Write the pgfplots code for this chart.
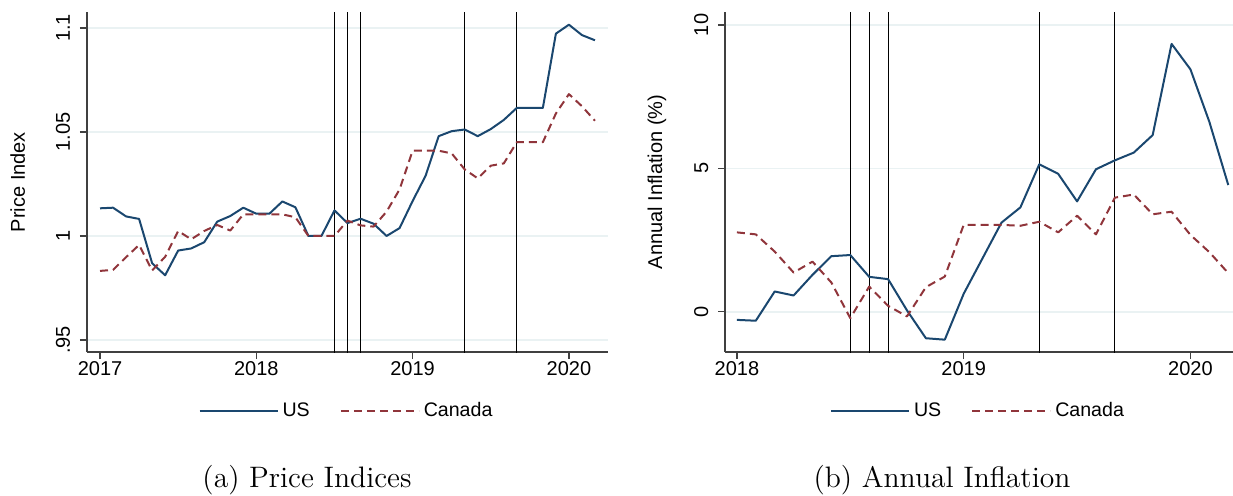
\documentclass[border=0pt]{standalone}
\usepackage{pgfplots}
\pgfplotsset{compat=1.18}
\usepackage{pgfplotstable}
\usepackage{fontspec}
\newfontfamily\arial{Liberation Sans}

\definecolor{usblue}{HTML}{1A476F}
\definecolor{cared}{HTML}{90353B}
\definecolor{gridc}{HTML}{EAF2F3}
\definecolor{axisc}{HTML}{404040}

% month index: 0 = 2017m1
\pgfplotstableread{
t us ca
0 1.0133 0.9832
1 1.0136 0.9837
2 1.0094 0.9898
3 1.0082 0.9957
4 0.9869 0.9834
5 0.9811 0.9900
6 0.9930 1.0024
7 0.9940 0.9984
8 0.9970 1.0024
9 1.0069 1.0053
10 1.0096 1.0026
11 1.0136 1.0104
12 1.0107 1.0104
13 1.0107 1.0104
14 1.0166 1.0104
15 1.0138 1.0090
16 1.0000 1.0000
17 1.0000 1.0000
18 1.0123 1.0000
19 1.0062 1.0074
20 1.0083 1.0051
21 1.0059 1.0045
22 1.0000 1.0117
23 1.0038 1.0224
24 1.0168 1.0410
25 1.0290 1.0410
26 1.0480 1.0410
27 1.0504 1.0397
28 1.0512 1.0320
29 1.0480 1.0277
30 1.0514 1.0338
31 1.0558 1.0349
32 1.0616 1.0451
33 1.0616 1.0451
34 1.0616 1.0451
35 1.0973 1.0589
36 1.1016 1.0682
37 1.0966 1.0624
38 1.0941 1.0554
}\prices

\pgfplotstableread{
t us ca
12 -0.28 2.77
13 -0.31 2.70
14 0.71 2.10
15 0.57 1.37
16 1.29 1.75
17 1.94 1.02
18 1.98 -0.22
19 1.22 0.88
20 1.14 0.21
21 0.05 -0.16
22 -0.92 0.86
23 -0.97 1.23
24 0.63 3.03
25 1.87 3.03
26 3.11 3.03
27 3.64 3.00
28 5.14 3.14
29 4.81 2.77
30 3.85 3.35
31 4.97 2.70
32 5.28 3.98
33 5.55 4.09
34 6.16 3.40
35 9.34 3.49
36 8.45 2.68
37 6.62 2.08
38 4.42 1.35
}\infl

\pgfplotsset{
  stata/.style={
    scale only axis,
    anchor=south west,
    height=170pt,
    axis x line*=bottom,
    axis y line*=left,
    axis line style={axisc, line width=0.6pt},
    tick align=outside,
    tick pos=left,
    major tick length=3.5pt,
    tick style={axisc, line width=0.6pt},
    ymajorgrids=true,
    grid style={gridc, line width=0.7pt},
    font=\arial\fontsize{10}{12}\selectfont,
    /pgf/number format/assume math mode=true,
    xticklabel style={inner sep=0pt, yshift=-1pt},
    yticklabel style={rotate=90, anchor=base, inner sep=0pt, yshift=5pt},
    xtick={12,24,36},
    xticklabels={2018,2019,2020},
    legend style={at={(0.5,-0.1735)}, anchor=center, draw=none, fill=none,
      legend columns=2, font=\arial\fontsize{9.8}{12}\selectfont,
      /tikz/every even column/.append style={column sep=13pt}},
    legend cell align=left,
    legend image code/.code={\draw[##1] (0pt,0pt) -- (39pt,0pt);},
    ylabel style={at={(axis description cs:-0.133,0.5)}, anchor=center, rotate=0},
  },
  usline/.style={usblue, line width=1pt, line join=round},
  caline/.style={cared, line width=1pt, dash pattern=on 4pt off 2.5pt, line join=round},
  vline/.style={black, line width=0.5pt, forget plot},
}

\begin{document}
\begin{tikzpicture}
\path[use as bounding box] (0,0) rectangle (616.5pt,-247.5pt);

\begin{axis}[stata,
  at={(43.5pt,-176pt)},
  width=260.5pt,
  xmin=-1, xmax=39,
  ymin=0.9442, ymax=1.1077,
  xtick={0,12,24,36},
  xticklabels={2017,2018,2019,2020},
  ytick={0.95,1,1.05,1.1},
  yticklabels={.95,1,1.05,1.1},
  ylabel={Price Index},
]
\addplot[vline] coordinates {(18,0.9) (18,1.2)};
\addplot[vline] coordinates {(19,0.9) (19,1.2)};
\addplot[vline] coordinates {(20,0.9) (20,1.2)};
\addplot[vline] coordinates {(28,0.9) (28,1.2)};
\addplot[vline] coordinates {(32,0.9) (32,1.2)};
\addplot[usline] table[x=t, y=us] {\prices};
\addlegendentry{US}
\addplot[caline] table[x=t, y=ca] {\prices};
\addlegendentry{Canada}
\end{axis}

\begin{axis}[stata,
  at={(362.5pt,-176pt)},
  width=254pt,
  xmin=11.37, xmax=38.25,
  ymin=-1.40, ymax=10.45,
  ytick={0,5,10},
  yticklabels={0,5,10},
  ylabel={Annual Inflation (\%)},
  ylabel style={at={(axis description cs:-0.134,0.5)}},
]
\addplot[vline] coordinates {(18,-5) (18,15)};
\addplot[vline] coordinates {(19,-5) (19,15)};
\addplot[vline] coordinates {(20,-5) (20,15)};
\addplot[vline] coordinates {(28,-5) (28,15)};
\addplot[vline] coordinates {(32,-5) (32,15)};
\addplot[usline] table[x=t, y=us] {\infl};
\addlegendentry{US}
\addplot[caline] table[x=t, y=ca] {\infl};
\addlegendentry{Canada}
\end{axis}

\node[font=\fontsize{14.8}{17}\selectfont] at (153.5pt,-240pt) {(a) Price Indices};
\node[font=\fontsize{14.8}{17}\selectfont] at (471pt,-240pt) {(b) Annual Inflation};
\end{tikzpicture}
\end{document}
